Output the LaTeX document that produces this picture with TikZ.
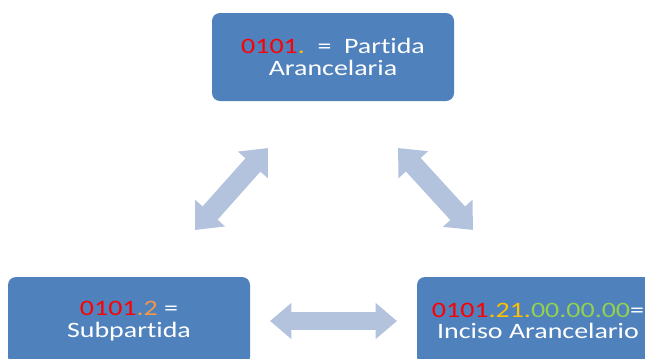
\documentclass[tikz,border=0pt]{standalone}
\usepackage{fontspec}
\setmainfont{Carlito}[FakeStretch=1.27,Ligatures=NoCommon]
\usetikzlibrary{positioning, arrows.meta}
\definecolor{boxblue}{RGB}{79,129,189}
\definecolor{arrowblue}{RGB}{179,195,222}
\definecolor{codered}{RGB}{255,0,0}
\definecolor{codeorange}{RGB}{247,150,70}
\definecolor{codeyellow}{RGB}{255,192,0}
\definecolor{codegreen}{RGB}{146,208,80}
\tikzset{level/.style={fill=boxblue,rounded corners=6pt,minimum width=181.5pt,minimum height=66pt,
                       text=white,align=center,font=\fontsize{16.5}{16}\selectfont},
         link/.style={draw=arrowblue,line width=13pt,
                      {Triangle[width=26pt,length=16pt]}-{Triangle[width=26pt,length=16pt]}},
         wide link/.style={link,line width=15pt,
                      {Triangle[width=29pt,length=17pt]}-{Triangle[width=29pt,length=17pt]}},
        }
\begin{document}
\begin{tikzpicture}[x=0.75pt,y=-0.75pt]
        \clip(0,0)rectangle(645,358);
        \node[level](partida)at(333,57){\textcolor{codered}{0101}\textcolor{codeyellow}{.}\ \ =\ \ Partida\\Arancelaria};
        \node[level](subpartida)at(129,321){\textcolor{codered}{0101}\textcolor{codeorange}{.2} =\\Subpartida};
        \node[level](inciso)at(538,321){\textcolor{codered}{0101}\textcolor{codeyellow}{.21.}\textcolor{codegreen}{00.00.00}=\\Inciso Arancelario};

        \coordinate(sl)at(195,230);
        \coordinate(pl)at(268,148);
        \coordinate(pr)at(398,148);
        \coordinate(ir)at(473,230);
        \coordinate(si)at(270,321);
        \coordinate(is)at(397,321);

        \draw[wide link](sl)--(pl);
        \draw[wide link](pr)--(ir);
        \draw[link](si)--(is);
    \end{tikzpicture}
\end{document}
